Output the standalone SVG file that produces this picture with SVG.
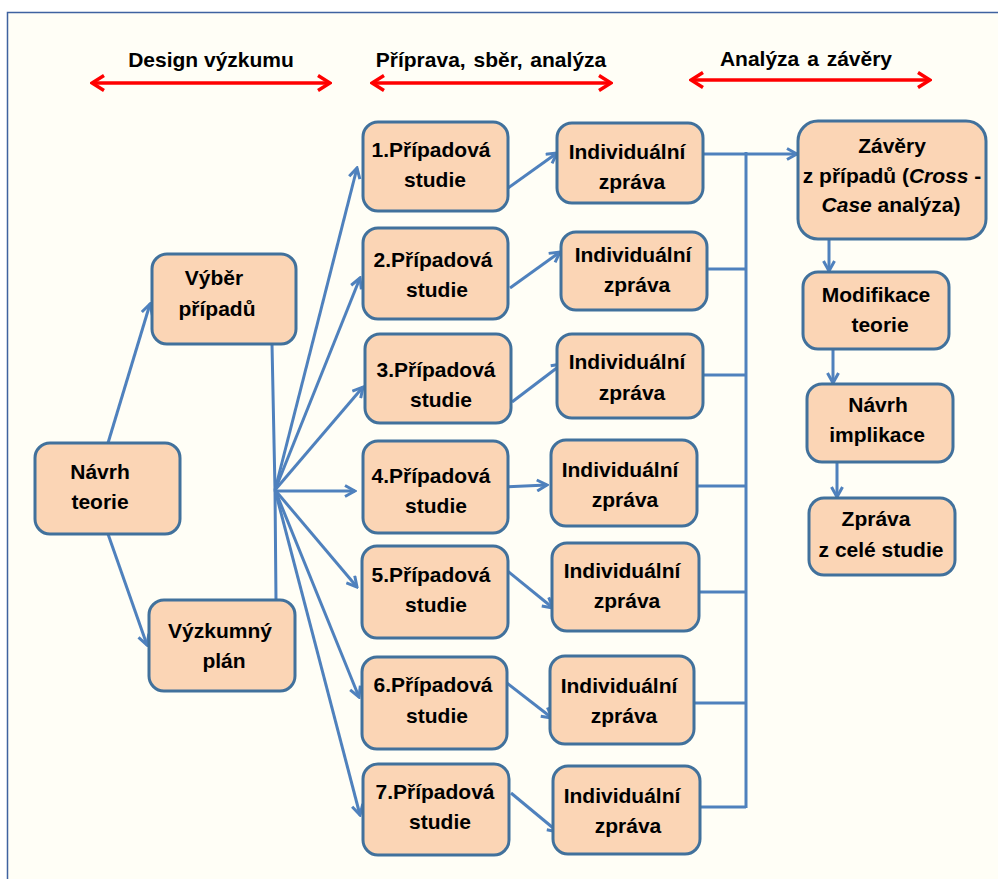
<svg xmlns="http://www.w3.org/2000/svg" width="998" height="879" viewBox="0 0 998 879">
  <style>
    .box { fill: #FBD5B5; stroke: #41719C; stroke-width: 3; }
    .lbl { font-family: "Liberation Sans", Arial, sans-serif; font-size: 21px; font-weight: bold; fill: #000; text-anchor: middle; }
    .hdr { font-family: "Liberation Sans", Arial, sans-serif; font-size: 21px; font-weight: bold; fill: #000; text-anchor: middle; }
    .con { stroke: #4F81BD; stroke-width: 3; fill: none; }
    .arr { marker-end: url(#ah); }
    .red { stroke: #FF0000; stroke-width: 3.5; fill: none; marker-start: url(#rh); marker-end: url(#rh); }
  </style>
  <defs>
    <marker id="ah" viewBox="0 0 14 14" refX="12" refY="7" markerWidth="14" markerHeight="14" markerUnits="userSpaceOnUse" orient="auto">
      <path d="M2,1.5 L12,7 L2,12.5" fill="none" stroke="#4F81BD" stroke-width="3"/>
    </marker>
    <marker id="rh" viewBox="0 0 16 18" refX="14" refY="9" markerWidth="16" markerHeight="18" markerUnits="userSpaceOnUse" orient="auto-start-reverse">
      <path d="M2,1.5 L14,9 L2,16.5" fill="none" stroke="#FF0000" stroke-width="3.5"/>
    </marker>
  </defs>

  <!-- page frame -->
  <rect x="0" y="0" width="998" height="879" fill="#FFFFFF"/>
  <rect x="7.5" y="12.5" width="995" height="870" fill="#FFFEF6" stroke="#3F62A0" stroke-width="1.5"/>

  <!-- phase headings -->
  <g id="phases">
    <text class="hdr" x="211" y="67">Design výzkumu</text>
    <text class="hdr" x="491" y="67" word-spacing="2">Příprava, sběr, analýza</text>
    <text class="hdr" x="806" y="66" word-spacing="2">Analýza a závěry</text>
    <line class="red" x1="92" y1="83" x2="330" y2="83"/>
    <line class="red" x1="372" y1="83" x2="611" y2="83"/>
    <line class="red" x1="691" y1="80" x2="930" y2="80"/>
  </g>

  <!-- connectors -->
  <g id="connectors">
    <line class="con arr" x1="108" y1="443" x2="150" y2="304"/>
    <line class="con arr" x1="108" y1="534" x2="147" y2="645"/>
    <polyline class="con" points="272,344 275,490 276,600"/>
    <line class="con arr" x1="275" y1="490" x2="357" y2="168"/>
    <line class="con arr" x1="275" y1="490" x2="360" y2="278"/>
    <line class="con arr" x1="275" y1="490" x2="363" y2="387"/>
    <line class="con arr" x1="275" y1="491" x2="355" y2="491"/>
    <line class="con arr" x1="275" y1="490" x2="357" y2="587"/>
    <line class="con arr" x1="275" y1="490" x2="359" y2="697"/>
    <line class="con arr" x1="275" y1="490" x2="360" y2="815"/>

    <line class="con arr" x1="508" y1="188" x2="557" y2="153"/>
    <line class="con arr" x1="510" y1="288" x2="560" y2="252"/>
    <line class="con arr" x1="512" y1="402" x2="562" y2="364"/>
    <line class="con arr" x1="505" y1="487" x2="547" y2="485"/>
    <line class="con arr" x1="505" y1="569" x2="553" y2="608"/>
    <line class="con arr" x1="503" y1="680" x2="552" y2="718"/>
    <line class="con arr" x1="511" y1="793" x2="558" y2="832"/>

    <line class="con" x1="746" y1="152" x2="746" y2="808"/>
    <line class="con arr" x1="703" y1="154" x2="797" y2="154"/>
    <line class="con" x1="707" y1="269" x2="746" y2="269"/>
    <line class="con" x1="703" y1="375" x2="746" y2="375"/>
    <line class="con" x1="697" y1="486" x2="746" y2="486"/>
    <line class="con" x1="699" y1="592" x2="746" y2="592"/>
    <line class="con" x1="694" y1="703" x2="746" y2="703"/>
    <line class="con" x1="700" y1="807" x2="746" y2="807"/>

    <line class="con arr" x1="829" y1="239" x2="829" y2="271"/>
    <line class="con arr" x1="833" y1="349" x2="833" y2="383"/>
    <line class="con arr" x1="837" y1="462" x2="837" y2="497"/>
  </g>

  <!-- design nodes -->
  <g id="navrh-teorie">
    <rect class="box" x="35" y="443" width="145" height="91" rx="15"/>
    <text class="lbl" x="100" y="479">Návrh</text>
    <text class="lbl" x="100" y="509">teorie</text>
  </g>
  <g id="vyber-pripadu">
    <rect class="box" x="152" y="254" width="144" height="90" rx="15"/>
    <text class="lbl" x="214" y="285">Výběr</text>
    <text class="lbl" x="217" y="316">případů</text>
  </g>
  <g id="vyzkumny-plan">
    <rect class="box" x="149" y="600" width="146" height="91" rx="15"/>
    <text class="lbl" x="220" y="638">Výzkumný</text>
    <text class="lbl" x="224" y="668">plán</text>
  </g>

  <!-- case studies -->
  <g id="case-1">
    <rect class="box" x="363" y="122" width="145" height="89" rx="15"/>
    <text class="lbl" x="431" y="157">1.Případová</text>
    <text class="lbl" x="435" y="187">studie</text>
  </g>
  <g id="case-2">
    <rect class="box" x="363" y="228" width="145" height="91" rx="15"/>
    <text class="lbl" x="433" y="267">2.Případová</text>
    <text class="lbl" x="437" y="297">studie</text>
  </g>
  <g id="case-3">
    <rect class="box" x="365" y="334" width="146" height="89" rx="15"/>
    <text class="lbl" x="436" y="377">3.Případová</text>
    <text class="lbl" x="441" y="407">studie</text>
  </g>
  <g id="case-4">
    <rect class="box" x="363" y="441" width="145" height="92" rx="15"/>
    <text class="lbl" x="431" y="483">4.Případová</text>
    <text class="lbl" x="436" y="513">studie</text>
  </g>
  <g id="case-5">
    <rect class="box" x="362" y="546" width="146" height="92" rx="15"/>
    <text class="lbl" x="431" y="582">5.Případová</text>
    <text class="lbl" x="436" y="612">studie</text>
  </g>
  <g id="case-6">
    <rect class="box" x="362" y="657" width="145" height="92" rx="15"/>
    <text class="lbl" x="433" y="692">6.Případová</text>
    <text class="lbl" x="437" y="723">studie</text>
  </g>
  <g id="case-7">
    <rect class="box" x="363" y="764" width="146" height="91" rx="15"/>
    <text class="lbl" x="435" y="799">7.Případová</text>
    <text class="lbl" x="440" y="829">studie</text>
  </g>

  <!-- individual reports -->
  <g id="report-1">
    <rect class="box" x="557" y="123" width="146" height="80" rx="15"/>
    <text class="lbl" x="627" y="159">Individuální</text>
    <text class="lbl" x="632" y="189">zpráva</text>
  </g>
  <g id="report-2">
    <rect class="box" x="561" y="232" width="146" height="78" rx="15"/>
    <text class="lbl" x="633" y="262">Individuální</text>
    <text class="lbl" x="637" y="292">zpráva</text>
  </g>
  <g id="report-3">
    <rect class="box" x="557" y="334" width="146" height="84" rx="15"/>
    <text class="lbl" x="627" y="369">Individuální</text>
    <text class="lbl" x="632" y="400">zpráva</text>
  </g>
  <g id="report-4">
    <rect class="box" x="551" y="440" width="146" height="86" rx="15"/>
    <text class="lbl" x="620" y="477">Individuální</text>
    <text class="lbl" x="625" y="507">zpráva</text>
  </g>
  <g id="report-5">
    <rect class="box" x="552" y="543" width="147" height="88" rx="15"/>
    <text class="lbl" x="622" y="578">Individuální</text>
    <text class="lbl" x="627" y="608">zpráva</text>
  </g>
  <g id="report-6">
    <rect class="box" x="550" y="656" width="144" height="88" rx="15"/>
    <text class="lbl" x="619" y="693">Individuální</text>
    <text class="lbl" x="624" y="723">zpráva</text>
  </g>
  <g id="report-7">
    <rect class="box" x="553" y="766" width="147" height="88" rx="15"/>
    <text class="lbl" x="622" y="803">Individuální</text>
    <text class="lbl" x="628" y="833">zpráva</text>
  </g>

  <!-- analysis and conclusions -->
  <g id="zavery">
    <rect class="box" x="798" y="121" width="188" height="118" rx="20"/>
    <text class="lbl" x="892" y="153">Závěry</text>
    <text class="lbl" x="892" y="183">z případů (<tspan font-style="italic">Cross</tspan> -</text>
    <text class="lbl" x="891" y="212"><tspan font-style="italic">Case</tspan> analýza)</text>
  </g>
  <g id="modifikace-teorie">
    <rect class="box" x="803" y="272" width="146" height="77" rx="15"/>
    <text class="lbl" x="876" y="302">Modifikace</text>
    <text class="lbl" x="880" y="332">teorie</text>
  </g>
  <g id="navrh-implikace">
    <rect class="box" x="807" y="384" width="146" height="78" rx="15"/>
    <text class="lbl" x="878" y="412">Návrh</text>
    <text class="lbl" x="877" y="442">implikace</text>
  </g>
  <g id="zprava-studie">
    <rect class="box" x="809" y="498" width="146" height="77" rx="15"/>
    <text class="lbl" x="876" y="526">Zpráva</text>
    <text class="lbl" x="881" y="557">z celé studie</text>
  </g>
</svg>
